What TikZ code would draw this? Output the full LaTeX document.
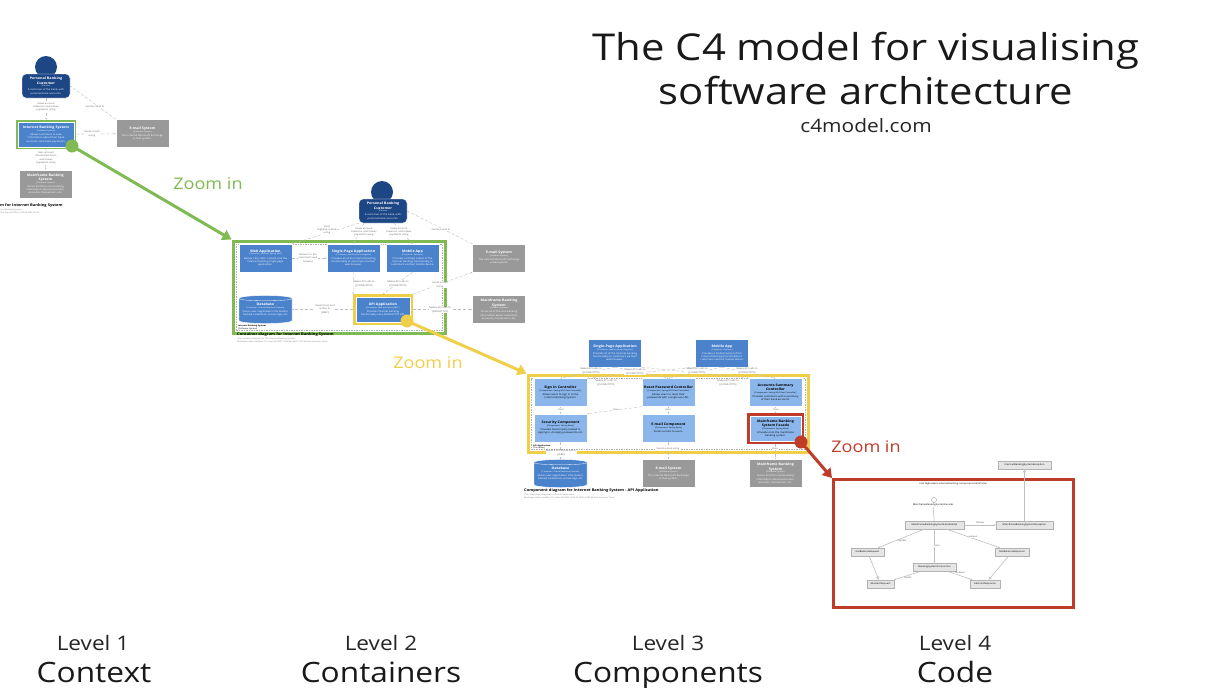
\documentclass[tikz,border=0pt]{standalone}
\usepackage{fontspec}
\setmainfont{Open Sans}[FakeStretch=1.13]
\usetikzlibrary{arrows.meta}
\definecolor{cperson}{HTML}{1D4685}
\definecolor{ccont}{HTML}{4A82CC}
\definecolor{ccomp}{HTML}{8AB6EC}
\definecolor{cext}{HTML}{999999}
\definecolor{cgreen}{HTML}{7FBA52}
\definecolor{cyellow}{HTML}{F0CF48}
\definecolor{cred}{HTML}{BE3C28}
\newcommand{\bt}[3]{\fontsize{3.3}{4.1}\selectfont\bfseries #1\par\fontsize{1.9}{2.6}\selectfont\mdseries {[}#2{]}\par\vspace{1pt}\fontsize{2.4}{3.2}\selectfont\leftskip=3pt plus 1fil\rightskip=3pt plus 1fil #3\par}
\newcommand{\dbshape}[2]{\begin{scope}[shift={(#1,#2)}]
\path[fill=ccont,draw=white,line width=.4pt] (-26.5,-11) .. controls (-26.5,-15) and (26.5,-15) .. (26.5,-11) -- (26.5,11) .. controls (26.5,15) and (-26.5,15) .. (-26.5,11) -- cycle;
\draw[white,line width=.3pt] (-26.5,-11) .. controls (-26.5,-8) and (26.5,-8) .. (26.5,-11);
\end{scope}}
\tikzset{
 card/.style={rectangle,draw=white,line width=.4pt,text=white,align=flush center,text width=52pt,inner sep=.2pt,minimum width=53pt,minimum height=28pt,font=\fontsize{2.4}{3.2}\selectfont},
 persbody/.style={card,fill=cperson,rounded corners=4pt,minimum width=48pt,minimum height=24pt,text width=46pt},
 head/.style={circle,fill=cperson,minimum size=22pt,inner sep=0pt},
 contbox/.style={card,fill=ccont},
 compbox/.style={card,fill=ccomp,text=black},
 extbox/.style={card,fill=cext},
 dbtext/.style={card,draw=none,fill=none},
 conn/.style={draw=black!25,dashed,dash pattern=on 3pt off 2pt,line width=.4pt,-{Stealth[length=1.6pt,width=1.6pt]}},
 lab/.style={fill=white,inner sep=.3pt,text=black!62,align=center,font=\fontsize{2.3}{3.4}\selectfont},
 inset/.style={rectangle,draw=black!30,dashed,dash pattern=on 1.5pt off 1pt,line width=.3pt},
 dot/.style={circle,inner sep=0pt,minimum size=13pt},
 zoomline/.style={line width=3pt,-{Triangle[length=9pt,width=11pt]}},
 zoomlab/.style={font=\fontsize{16}{18}\selectfont,inner sep=0pt},
 capt/.style={anchor=west,inner sep=0pt,font=\fontsize{3.6}{4.3}\selectfont\bfseries},
 sub/.style={anchor=west,inner sep=0pt,text=black!50,font=\fontsize{2}{2.5}\selectfont},
 bound/.style={anchor=west,inner sep=0pt,align=left,font=\fontsize{2}{2.5}\selectfont},
 uml/.style={rectangle,draw=black!30,fill=black!10,line width=.5pt,inner sep=0pt,font=\fontsize{2.3}{2.6}\selectfont,minimum height=8pt},
 umlline/.style={draw=black!25,line width=.6pt,-{Stealth[length=1.8pt,width=1.8pt]}},
 umlgen/.style={draw=black!25,line width=.6pt,-{Triangle[open,length=3pt,width=3pt]}},
 levlab/.style={font=\fontsize{20}{22}\selectfont,inner sep=0pt,anchor=base,text=black!85},
 levname/.style={font=\fontsize{28}{30}\selectfont,inner sep=0pt,anchor=base,text=black!90},
}
\begin{document}
\begin{tikzpicture}[x=1pt,y=-1pt]
\useasboundingbox (0,0) rectangle (1216,688);
\fill[white] (0,0) rectangle (1216,688);
% ---------- Level 1
\node[head] (a0) at (46,67) {};
\node[persbody] (a1) at (46,86) {\bt{Personal Banking\\Customer}{Person}{A customer of the bank, with personal bank accounts.}};
\node[rectangle,draw=cgreen,line width=2.6pt,minimum width=58pt,minimum height=27pt,inner sep=0pt] (a2f) at (46,134.5) {};
\node[contbox,minimum width=56pt,minimum height=25pt] (a2) at (46,134.5) {\bt{Internet Banking System}{Software System}{Allows customers to view information about their bank accounts, and make payments.}};
\node[extbox] (a3) at (142.5,133.5) {\bt{E-mail System}{Software System}{The internal Microsoft Exchange e-mail system.}};
\node[extbox] (a4) at (45.5,184) {\bt{Mainframe Banking\\System}{Software System}{Stores all of the core banking information about customers, accounts, transactions, etc.}};
\draw[conn] (a1) -- (a2f);
\draw[conn] (a2f) -- (a4);
\draw[conn] (a2f) -- (a3);
\draw[conn] (a3.north west) -- (a1.east);
\node[lab] (al1) at (46,107) {Views account\\balances, and makes\\payments using};
\node[lab] (al2) at (46,158) {Gets account\\information from,\\and makes\\payments using};
\node[lab] (al3) at (92,134) {Sends e-mail\\using};
\node[lab] (al4) at (95,107) {Sends e-mail to};
\node[capt] (ac) at (0,206) {m for Internet Banking System};
\node[sub] (as1) at (0,210) {rnet Banking System.};
\node[sub] (as2) at (0,213) {Thu Sep 24 2020 10:44:24 GMT+0100};
% ---------- Level 2
\node[rectangle,draw=cgreen,line width=3pt,minimum width=212pt,minimum height=92pt,inner sep=0pt] (bf) at (339,287) {};
\node[inset,minimum width=206pt,minimum height=86pt,inner sep=0pt] (bin) at (339,287) {};
\node[head] (b0) at (382,192) {};
\node[persbody] (b1) at (383,211) {\bt{Personal Banking\\Customer}{Person}{A customer of the bank, with personal bank accounts.}};
\node[contbox] (b2) at (265.5,258) {\bt{Web Application}{Container: Java and Spring MVC}{Delivers the static content and the Internet banking single page application.}};
\node[contbox] (b3) at (353.5,258) {\bt{Single-Page Application}{Container: JavaScript and Angular}{Provides all of the Internet banking functionality to customers via their web browser.}};
\node[contbox] (b4) at (412.5,258) {\bt{Mobile App}{Container: Xamarin}{Provides a limited subset of the Internet banking functionality to customers via their mobile device.}};
\dbshape{265.5}{309.5}
\node[dbtext] (b5) at (265.5,309.5) {\bt{Database}{Container: Oracle Database Schema}{Stores user registration information, hashed credentials, access logs, etc.}};
\node[rectangle,draw=cyellow,line width=2.6pt,minimum width=57pt,minimum height=28pt,inner sep=0pt] (b6f) at (383,309.5) {};
\node[contbox,minimum width=54.5pt,minimum height=25.5pt] (b6) at (383,309.5) {\bt{API Application}{Container: Java and Spring MVC}{Provides Internet banking functionality via a JSON/HTTPS API.}};
\node[extbox] (b7) at (499,258) {\bt{E-mail System}{Software System}{The internal Microsoft Exchange e-mail system.}};
\node[extbox] (b8) at (499,309.5) {\bt{Mainframe Banking\\System}{Software System}{Stores all of the core banking information about customers, accounts, transactions, etc.}};
\draw[conn] (b1.south west) -- (b2.north east);
\draw[conn] (b1.south) ++(-19,0) coordinate (b1a) (b1a) -- (b3.north);
\draw[conn] (b1) -- (b4.north);
\draw[conn] (b7.north west) -- (b1.east);
\draw[conn] (b2) -- (b3);
\draw[conn] (b3.south) -- (b6f.north west);
\draw[conn] (b4.south) -- (b6f.north);
\draw[conn] (b6f.north east) -- (b7.south west);
\draw[conn] (b6f) -- (b5);
\draw[conn] (b6f) -- (b8);
\node[lab] (bl1) at (327,230) {Visits\\bigbank.com/ib\\using};
\node[lab] (bl2) at (364,232) {Views account\\balances, and makes\\payments using};
\node[lab] (bl3) at (399,232) {Views account\\balances, and makes\\payments using};
\node[lab] (bl4) at (441,230) {Sends e-mail to};
\node[lab] (bl5) at (308,258) {Delivers to the\\customer's web\\browser};
\node[lab] (bl6) at (364,284) {Makes API calls to\\{[JSON/HTTPS]}};
\node[lab] (bl7) at (398,284) {Makes API calls to\\{[JSON/HTTPS]}};
\node[lab] (bl8) at (440,285) {Sends e-mail\\using};
\node[lab] (bl9) at (325,309) {Reads from and\\writes to\\{[JDBC]}};
\node[lab] (bl10) at (440,310) {Makes API calls to\\{[XML/HTTPS]}};
\node[bound] (bb) at (238,327.5) {\bfseries Internet Banking System\\{[Software System]}};
\node[capt] (bc) at (237,335) {Container diagram for Internet Banking System};
\node[sub] (bs1) at (237,339) {The container diagram for the Internet Banking System.};
\node[sub] (bs2) at (237,342) {Workspace last modified: Thu Sep 24 2020 10:44:24 GMT+0100 (British Summer Time)};
% ---------- Level 3
\node[rectangle,draw=cyellow,line width=3pt,minimum width=280pt,minimum height=77pt,inner sep=0pt] (cf) at (668,413.5) {};
\node[inset,minimum width=274pt,minimum height=71pt,inner sep=0pt] (cin) at (668,413.5) {};
\node[contbox] (c1) at (615,353) {\bt{Single-Page Application}{Container: JavaScript and Angular}{Provides all of the Internet banking functionality to customers via their web browser.}};
\node[contbox] (c2) at (722,353) {\bt{Mobile App}{Container: Xamarin}{Provides a limited subset of the Internet banking functionality to customers via their mobile device.}};
\node[compbox] (c3) at (560.5,392.5) {\bt{Sign In Controller}{Component: Spring MVC Rest Controller}{Allows users to sign in to the Internet Banking System.}};
\node[compbox] (c4) at (668.5,392.5) {\bt{Reset Password Controller}{Component: Spring MVC Rest Controller}{Allows users to reset their passwords with a single use URL.}};
\node[compbox] (c5) at (775.5,392.5) {\bt{Accounts Summary\\Controller}{Component: Spring MVC Rest Controller}{Provides customers with a summary of their bank accounts.}};
\node[compbox] (c6) at (560.5,428) {\bt{Security Component}{Component: Spring Bean}{Provides functionality related to signing in, changing passwords, etc.}};
\node[compbox] (c7) at (668.5,428) {\bt{E-mail Component}{Component: Spring Bean}{Sends e-mails to users.}};
\node[rectangle,draw=cred,line width=2.6pt,minimum width=54pt,minimum height=28pt,inner sep=0pt] (c8f) at (775.5,428.5) {};
\node[compbox,minimum width=51.5pt,minimum height=25.5pt,text width=50pt] (c8) at (775.5,428.5) {\bt{Mainframe Banking\\System Facade}{Component: Spring Bean}{A facade onto the mainframe banking system.}};
\dbshape{560.5}{473.5}
\node[dbtext] (c9) at (560.5,473.5) {\bt{Database}{Container: Oracle Database Schema}{Stores user registration information, hashed credentials, access logs, etc.}};
\node[extbox] (c10) at (668.5,473.5) {\bt{E-mail System}{Software System}{The internal Microsoft Exchange e-mail system.}};
\node[extbox] (c11) at (775.5,473.5) {\bt{Mainframe Banking\\System}{Software System}{Stores all of the core banking information about customers, accounts, transactions, etc.}};
\draw[conn] (c1.south) -- (c3.north);
\draw[conn] (c1.south) -- (c4.north);
\draw[conn] (c2.south) -- (c4.north);
\draw[conn] (c2.south) -- (c5.north);
\draw[conn] (c2.south west) -- (c3.north east);
\draw[conn] (c1.south east) -- (c5.north west);
\draw[conn] (c3) -- (c6);
\draw[conn] (c4) -- (c7);
\draw[conn] (c5) -- (c8f);
\draw[conn] (c4.south west) -- (c6.north east);
\draw[conn] (c6) -- (c9);
\draw[conn] (c7) -- (c10);
\draw[conn] (c8f) -- (c11);
\node[lab] (cl1) at (591,371) {Makes API calls to\\{[JSON/HTTPS]}};
\node[lab] (cl2) at (635,372) {Makes API calls to\\{[JSON/HTTPS]}};
\node[lab] (cl3) at (697,371) {Makes API calls to\\{[JSON/HTTPS]}};
\node[lab] (cl4) at (747,371) {Makes API calls to\\{[JSON/HTTPS]}};
\node[lab] (cl5) at (606,383) {Makes API calls to\\{[JSON/HTTPS]}};
\node[lab] (cl6) at (728,383) {Makes API calls to\\{[JSON/HTTPS]}};
\node[lab] (cl7) at (561,409.5) {Uses};
\node[lab] (cl8) at (668,409.5) {Uses};
\node[lab] (cl9) at (776,409.5) {Uses};
\node[lab] (cl10) at (616,410) {Uses};
\node[lab] (cl11) at (561,453) {Reads from and writes to\\{[JDBC]}};
\node[lab] (cl12) at (668,448.5) {Sends e-mail using};
\node[lab] (cl13) at (775,449) {Uses};
\node[bound] (cb) at (533,447) {\bfseries API Application\\{[Container]}};
\node[capt] (cc) at (524,491) {Component diagram for Internet Banking System - API Application};
\node[sub] (cs1) at (524,495) {The component diagram for the API Application.};
\node[sub] (cs2) at (524,498) {Workspace last modified: Thu Sep 24 2020 10:44:24 GMT+0100 (British Summer Time)};
% ---------- Level 4
\node[rectangle,draw=cred,line width=3pt,minimum width=240pt,minimum height=128pt,inner sep=0pt] (df) at (953.5,543.5) {};
\node[inner sep=0pt,font=\fontsize{2.3}{3}\selectfont] (dt) at (953,484) {com.bigbankplc.internetbanking.component.mainframe};
\node[circle,draw=black!40,fill=white,line width=.4pt,minimum size=5pt,inner sep=0pt] (di) at (934,500) {};
\node[inner sep=0pt,font=\fontsize{2.3}{3}\selectfont,fill=white] (dil) at (933,505) {MainframeBankingSystemFacade};
\node[uml,minimum width=59pt] (d1) at (934.5,525) {MainframeBankingSystemFacadeImpl};
\node[uml,minimum width=57pt] (d2) at (1024.5,525) {MainframeBankingSystemException};
\node[uml,minimum width=53pt] (d3) at (1024.5,465) {InternetBankingSystemException};
\node[uml,minimum width=33pt] (d4) at (867.5,552) {GetBalanceRequest};
\node[uml,minimum width=34pt] (d5) at (1012,552) {GetBalanceResponse};
\node[uml,minimum width=43pt] (d6) at (934.5,567) {BankingSystemConnection};
\node[uml,minimum width=27pt] (d7) at (880.5,584) {AbstractRequest};
\node[uml,minimum width=30pt] (d8) at (985,584) {AbstractResponse};
\draw[draw=black!25,line width=.6pt] (di) -- (dil);
\draw[draw=black!25,line width=.6pt] (dil) -- (d1);
\draw[umlline] (d1) -- (d6);
\draw[umlline] (d1) -- (d2);
\draw[umlgen] (d2) -- (d3);
\draw[umlline] (d1) -- (d4);
\draw[umlline] (d1) -- (d5);
\draw[umlgen] (d4) -- (d7);
\draw[umlgen] (d5) -- (d8);
\draw[umlline] (d6) -- (d7);
\draw[umlline] (d6) -- (d8);
\node[lab,text=black!70] (dl1) at (937,546) {uses};
\node[lab,text=black!70] (dl2) at (980,523) {throws};
\node[lab,text=black!70] (dl3) at (902,541) {creates};
\node[lab,text=black!70] (dl4) at (973,537) {parses};
\node[lab,text=black!70] (dl5) at (908,578) {sends};
\node[lab,text=black!70] (dl6) at (960,573) {receives};
% ---------- Zoom arrows
\node[dot,fill=cgreen] (zg) at (72,146) {};
\node[dot,fill=cyellow] (zy) at (407,321) {};
\node[dot,fill=cred] (zr) at (801,442) {};
\draw[zoomline,draw=cgreen,fill=cgreen] (zg.center) -- (bf.north west);
\draw[zoomline,draw=cyellow,fill=cyellow] (zy.center) -- (cf.north west);
\draw[zoomline,draw=cred,fill=cred] (zr.center) -- (df.north west);
\node[zoomlab,text=cgreen] (zgl) at (208,184) {Zoom in};
\node[zoomlab,text=cyellow] (zyl) at (428,363) {Zoom in};
\node[zoomlab,text=cred] (zrl) at (866,447) {Zoom in};
% ---------- Titles
\node[inner sep=0pt,anchor=base,font=\fontsize{37}{44}\selectfont,text=black!90] (t1) at (866,60) {The C4 model for visualising};
\node[inner sep=0pt,anchor=base,font=\fontsize{37}{44}\selectfont,text=black!90] (t2) at (866,104) {software architecture};
\node[inner sep=0pt,anchor=base,font=\fontsize{18.5}{22}\selectfont,text=black!85] (t3) at (866,132) {c4model.com};
\node[levlab] (l1) at (93,650) {Level 1};
\node[levlab] (l2) at (381,650) {Level 2};
\node[levlab] (l3) at (668,650) {Level 3};
\node[levlab] (l4) at (955,650) {Level 4};
\node[levname] (n1) at (94,682) {Context};
\node[levname] (n2) at (381,682) {Containers};
\node[levname] (n3) at (668,682) {Components};
\node[levname] (n4) at (955,682) {Code};
\end{tikzpicture}
\end{document}
